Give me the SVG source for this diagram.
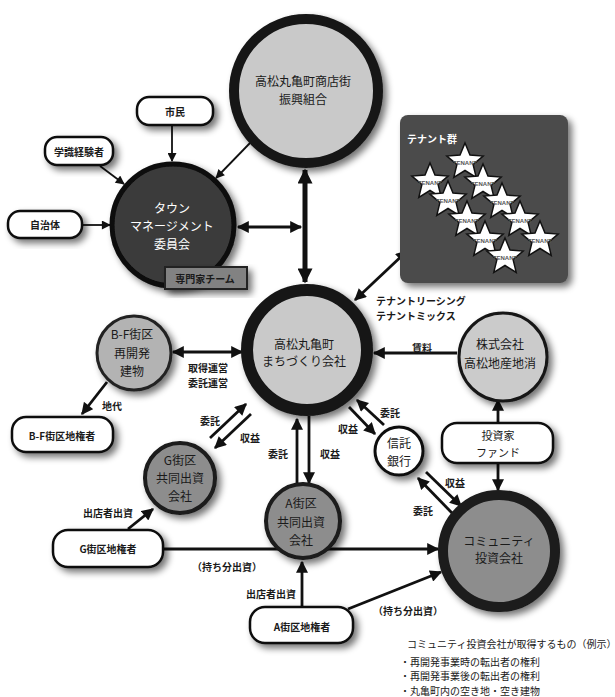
<svg xmlns="http://www.w3.org/2000/svg" width="615" height="697" viewBox="0 0 615 697">
<defs>
<style>
.t{font-family:"Noto Sans CJK JP","Noto Sans",sans-serif;text-anchor:middle;dominant-baseline:central;fill:#1a1a1a}
.n{font-size:12px}
.l{font-size:10px;font-weight:bold}
.w{fill:#fff}
.s{text-anchor:start}
.c{stroke:#111;fill:none;stroke-width:1.8}
.c2{stroke-width:2.8}
.c3{stroke-width:5}
.pill{fill:#fff;stroke:#111;stroke-width:2.5}
.star{fill:#fff;stroke:#111;stroke-width:1.5}
.st{font-family:"Liberation Sans",sans-serif;font-size:6px;font-weight:bold;fill:#555;text-anchor:middle;dominant-baseline:central}
</style>
<filter id="sh" x="-30%" y="-30%" width="170%" height="170%">
<feGaussianBlur in="SourceAlpha" stdDeviation="3.5"/>
<feOffset dx="4" dy="4" result="b"/>
<feComponentTransfer><feFuncA type="linear" slope="0.55"/></feComponentTransfer>
<feMerge><feMergeNode/><feMergeNode in="SourceGraphic"/></feMerge>
</filter>
<marker id="a" viewBox="0 0 10 10" refX="9" refY="5" markerWidth="10" markerHeight="9" markerUnits="userSpaceOnUse" orient="auto-start-reverse"><path d="M0,0 L10,5 L0,10 z" fill="#111"/></marker>
<marker id="m" viewBox="0 0 10 10" refX="9" refY="5" markerWidth="13" markerHeight="12" markerUnits="userSpaceOnUse" orient="auto-start-reverse"><path d="M0,0 L10,5 L0,10 z" fill="#111"/></marker>
<marker id="A" viewBox="0 0 10 10" refX="9" refY="5" markerWidth="17" markerHeight="15" markerUnits="userSpaceOnUse" orient="auto-start-reverse"><path d="M0,0 L10,5 L0,10 z" fill="#111"/></marker>
<polygon id="star" points="0,-19 5,-6.9 18.1,-5.9 8.1,2.6 11.2,15.4 0,8.5 -11.2,15.4 -8.1,2.6 -18.1,-5.9 -5,-6.9"/>
</defs>
<rect width="615" height="697" fill="#fff"/>

<g id="connectors">
<line class="c" x1="172" y1="125" x2="172" y2="161" marker-end="url(#a)"/>
<line class="c" x1="100" y1="166" x2="124" y2="184" marker-end="url(#a)"/>
<line class="c" x1="82" y1="225" x2="110" y2="225" marker-end="url(#a)"/>
<line class="c" x1="250" y1="143" x2="216" y2="178" marker-end="url(#a)"/>
<line class="c c2" x1="238" y1="227" x2="301" y2="227" marker-start="url(#m)" marker-end="url(#m)"/>
<line class="c c3" x1="305" y1="170" x2="305" y2="282" marker-start="url(#A)" marker-end="url(#A)"/>
<line class="c c2" x1="355" y1="300" x2="407" y2="251" marker-start="url(#m)" marker-end="url(#m)"/>
<line class="c c2" x1="173" y1="352" x2="242" y2="352" marker-start="url(#m)" marker-end="url(#m)"/>
<line class="c c2" x1="457" y1="353" x2="374" y2="353" marker-end="url(#m)"/>
<line class="c c2" x1="498" y1="423" x2="498" y2="400" marker-end="url(#m)"/>
<line class="c c2" x1="498" y1="463" x2="498" y2="490" marker-end="url(#m)"/>
<line class="c c2" x1="384" y1="425" x2="357" y2="400" marker-end="url(#m)"/>
<line class="c c2" x1="349" y1="407" x2="375" y2="434" marker-end="url(#m)"/>
<line class="c c2" x1="452" y1="513" x2="418" y2="478" marker-end="url(#m)"/>
<line class="c c2" x1="426" y1="472" x2="461" y2="506" marker-end="url(#m)"/>
<line class="c c2" x1="297" y1="483" x2="297" y2="419" marker-end="url(#m)"/>
<line class="c c2" x1="309" y1="416" x2="309" y2="483" marker-end="url(#m)"/>
<line class="c c2" x1="210" y1="438" x2="246" y2="404" marker-end="url(#m)"/>
<line class="c c2" x1="251" y1="414" x2="215" y2="448" marker-end="url(#m)"/>
<line class="c c2" x1="107" y1="382" x2="82" y2="414" marker-end="url(#m)"/>
<line class="c c2" x1="128" y1="529" x2="153" y2="509" marker-end="url(#m)"/>
<line class="c c2" x1="163" y1="549" x2="438" y2="549" marker-end="url(#m)"/>
<line class="c c2" x1="302" y1="607" x2="302" y2="562" marker-end="url(#m)"/>
<line class="c c2" x1="348" y1="609" x2="441" y2="572" marker-end="url(#m)"/>
<text class="t l" x="208" y="367">取得運営</text>
<text class="t l" x="208" y="382">委託運営</text>
<text class="t l" x="112" y="405">地代</text>
<text class="t l" x="422" y="347">賃料</text>
<text class="t l" x="390" y="412">委託</text>
<text class="t l" x="348" y="428">収益</text>
<text class="t l" x="455" y="482">収益</text>
<text class="t l" x="423" y="510">委託</text>
<text class="t l" x="278" y="453">委託</text>
<text class="t l" x="330" y="453">収益</text>
<text class="t l" x="210" y="420">委託</text>
<text class="t l" x="250" y="437">収益</text>
<text class="t l" x="108" y="512">出店者出資</text>
<text class="t l" x="227" y="566">（持ち分出資）</text>
<text class="t l" x="271" y="593">出店者出資</text>
<text class="t l" x="408" y="610">（持ち分出資）</text>
<text class="t l s" x="376" y="300">テナントリーシング</text>
<text class="t l s" x="376" y="315">テナントミックス</text>
</g>

<g id="n-shinkou">
<circle cx="306" cy="91" r="72" fill="#c9c9c9" stroke="#151515" stroke-width="10" filter="url(#sh)"/>
<text class="t n" x="303" y="80">高松丸亀町商店街</text>
<text class="t n" x="303" y="98">振興組合</text>
</g>

<g id="n-town">
<circle cx="173" cy="225" r="61" fill="#3b3b3b" stroke="#0a0a0a" stroke-width="5" filter="url(#sh)"/>
<text class="t n w" x="172" y="207">タウン</text>
<text class="t n w" x="172" y="225">マネージメント</text>
<text class="t n w" x="172" y="243">委員会</text>
</g>

<g id="n-expert">
<rect x="165" y="267" width="82" height="22" fill="#828282" stroke="#222" stroke-width="2" filter="url(#sh)"/>
<text class="t l" x="205" y="278">専門家チーム</text>
</g>

<g id="n-shimin">
<rect class="pill" x="137" y="97" width="76" height="28" rx="12" filter="url(#sh)"/>
<text class="t l" x="175" y="111">市民</text>
</g>
<g id="n-gakushiki">
<rect class="pill" x="45" y="137" width="68" height="28" rx="12" filter="url(#sh)"/>
<text class="t l" x="79" y="151">学識経験者</text>
</g>
<g id="n-jichitai">
<rect class="pill" x="8" y="211" width="74" height="27" rx="12" filter="url(#sh)"/>
<text class="t l" x="45" y="224">自治体</text>
</g>

<g id="n-tenant">
<rect x="400" y="115" width="168" height="168" rx="8" fill="#4b4b4b" filter="url(#sh)"/>
<text class="t l w s" x="407" y="138">テナント群</text>
<use href="#star" class="star" x="465" y="162"/><text class="st" x="465" y="163">TENANT</text>
<use href="#star" class="star" x="430" y="182"/><text class="st" x="430" y="183">TENANT</text>
<use href="#star" class="star" x="483" y="183"/><text class="st" x="483" y="184">TENANT</text>
<use href="#star" class="star" x="448" y="200"/><text class="st" x="448" y="201">TENANT</text>
<use href="#star" class="star" x="502" y="202"/><text class="st" x="502" y="203">TENANT</text>
<use href="#star" class="star" x="467" y="220"/><text class="st" x="467" y="221">TENANT</text>
<use href="#star" class="star" x="520" y="220"/><text class="st" x="520" y="221">TENANT</text>
<use href="#star" class="star" x="485" y="240"/><text class="st" x="485" y="241">TENANT</text>
<use href="#star" class="star" x="540" y="240"/><text class="st" x="540" y="241">TENANT</text>
<use href="#star" class="star" x="505" y="257"/><text class="st" x="505" y="258">TENANT</text>
</g>

<g id="n-machi">
<circle cx="307" cy="350" r="60" fill="#c9c9c9" stroke="#151515" stroke-width="12" filter="url(#sh)"/>
<text class="t n" x="304" y="343">高松丸亀町</text>
<text class="t n" x="304" y="360">まちづくり会社</text>
</g>

<g id="n-bf">
<circle cx="134" cy="353" r="37" fill="#b3b3b3" stroke="#222" stroke-width="3" filter="url(#sh)"/>
<text class="t n" x="132" y="333">B-F街区</text>
<text class="t n" x="132" y="352">再開発</text>
<text class="t n" x="132" y="370">建物</text>
</g>

<g id="n-bf-owner">
<rect class="pill" x="12" y="417" width="101" height="35" rx="14" filter="url(#sh)"/>
<text class="t l" x="62" y="435">B-F街区地権者</text>
</g>

<g id="n-chisan">
<circle cx="503" cy="357" r="44" fill="#cbcbcb" stroke="#151515" stroke-width="3" filter="url(#sh)"/>
<text class="t n" x="500" y="343">株式会社</text>
<text class="t n" x="500" y="362">高松地産地消</text>
</g>

<g id="n-fund">
<rect class="pill" x="442" y="423" width="111" height="40" rx="15" filter="url(#sh)"/>
<text class="t" x="498" y="435" style="font-size:11px">投資家</text>
<text class="t" x="498" y="452" style="font-size:11px">ファンド</text>
</g>

<g id="n-trust">
<circle cx="399" cy="451" r="24" fill="#fff" stroke="#111" stroke-width="3" filter="url(#sh)"/>
<text class="t n" x="399" y="442">信託</text>
<text class="t n" x="399" y="460">銀行</text>
</g>

<g id="n-community">
<circle cx="499" cy="551" r="56" fill="#8d8d8d" stroke="#1a1a1a" stroke-width="10" filter="url(#sh)"/>
<text class="t n" x="499" y="540">コミュニティ</text>
<text class="t n" x="499" y="557">投資会社</text>
</g>

<g id="n-a">
<circle cx="303" cy="521" r="37" fill="#8d8d8d" stroke="#1a1a1a" stroke-width="4" filter="url(#sh)"/>
<text class="t n" x="301" y="502">A街区</text>
<text class="t n" x="301" y="521">共同出資</text>
<text class="t n" x="301" y="539">会社</text>
</g>

<g id="n-g">
<circle cx="180" cy="478" r="35" fill="#8d8d8d" stroke="#1a1a1a" stroke-width="4" filter="url(#sh)"/>
<text class="t n" x="180" y="459">G街区</text>
<text class="t n" x="180" y="477">共同出資</text>
<text class="t n" x="180" y="495">会社</text>
</g>

<g id="n-g-owner">
<rect class="pill" x="53" y="530" width="110" height="37" rx="15" filter="url(#sh)"/>
<text class="t l" x="108" y="548">G街区地権者</text>
</g>

<g id="n-a-owner">
<rect class="pill" x="250" y="607" width="103" height="36" rx="15" filter="url(#sh)"/>
<text class="t l" x="302" y="626">A街区地権者</text>
</g>

<g id="note">
<text class="t l s" x="407" y="643" style="font-weight:normal">コミュニティ投資会社が取得するもの（例示）</text>
<text class="t l s" x="400" y="661" style="font-weight:normal">・再開発事業時の転出者の権利</text>
<text class="t l s" x="400" y="675" style="font-weight:normal">・再開発事業後の転出者の権利</text>
<text class="t l s" x="400" y="690" style="font-weight:normal">・丸亀町内の空き地・空き建物</text>
</g>
</svg>
